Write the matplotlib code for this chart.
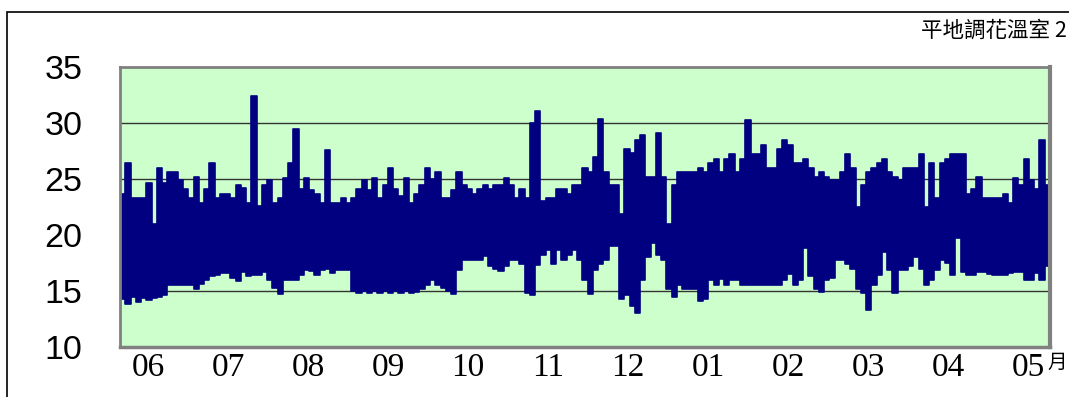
import numpy as np
import matplotlib
matplotlib.use("Agg")
import matplotlib.pyplot as plt
from matplotlib.patches import Rectangle

# greenhouse temperature, read as 2-day max / min envelopes
temp_high = [
    23.7, 26.4, 23.3, 23.3, 23.3, 24.6, 21.0, 26.0, 24.6, 25.6,
    25.6, 24.9, 24.1, 23.3, 25.2, 22.9, 24.1, 26.4, 23.3, 23.7,
    23.7, 23.3, 24.5, 24.2, 22.9, 32.4, 22.6, 24.5, 24.9, 22.9,
    23.3, 25.1, 26.4, 29.5, 24.1, 25.1, 24.0, 23.7, 22.9, 27.6,
    22.9, 22.9, 23.3, 22.9, 23.3, 24.1, 24.9, 24.0, 25.1, 23.3,
    24.5, 26.0, 24.1, 23.5, 25.1, 22.9, 23.7, 24.5, 26.0, 25.0,
    25.6, 23.3, 23.3, 24.0, 25.6, 24.5, 24.1, 23.7, 24.1, 24.5,
    24.1, 24.5, 24.5, 25.1, 24.5, 23.3, 24.1, 23.3, 30.0, 31.1,
    23.0, 23.3, 23.3, 24.1, 24.1, 23.7, 24.5, 24.5, 26.0, 25.6,
    27.0, 30.4, 25.6, 24.5, 24.5, 21.9, 27.7, 27.3, 28.5, 28.9,
    25.2, 25.2, 29.1, 25.2, 21.0, 24.5, 25.6, 25.6, 25.6, 25.6,
    26.0, 25.6, 26.4, 26.8, 25.6, 26.8, 27.2, 25.6, 26.8, 30.3,
    27.2, 27.2, 28.0, 26.0, 26.0, 27.7, 28.5, 28.0, 26.4, 26.4,
    26.8, 26.0, 25.2, 25.6, 25.2, 24.9, 24.9, 25.6, 27.2, 26.0,
    22.5, 24.5, 25.6, 26.0, 26.4, 26.8, 25.6, 25.2, 24.9, 26.0,
    26.0, 26.0, 27.2, 22.5, 26.4, 23.3, 26.4, 26.8, 27.2, 27.2,
    27.2, 23.7, 24.1, 25.2, 23.3, 23.3, 23.3, 23.3, 23.7, 22.9,
    25.1, 24.5, 26.8, 24.9, 24.1, 28.5, 24.5,
]
temp_low = [
    14.3, 13.8, 14.5, 14.0, 14.4, 14.2, 14.4, 14.5, 14.6, 15.5,
    15.5, 15.5, 15.5, 15.5, 15.2, 15.6, 16.0, 16.3, 16.4, 16.6,
    16.6, 16.2, 15.9, 16.7, 16.3, 16.4, 16.4, 16.7, 16.0, 15.3,
    14.7, 16.0, 16.0, 16.0, 16.4, 16.9, 16.8, 16.4, 16.9, 17.0,
    16.6, 16.9, 16.9, 16.9, 15.0, 14.8, 15.0, 14.8, 15.0, 14.8,
    15.0, 14.8, 15.0, 14.8, 15.0, 14.8, 14.9, 15.2, 15.5, 16.0,
    15.5, 15.3, 15.0, 14.7, 16.9, 17.8, 17.8, 17.8, 17.8, 18.1,
    17.2, 17.0, 16.8, 17.2, 17.8, 17.8, 17.4, 14.8, 14.6, 17.3,
    18.2, 18.7, 17.4, 18.7, 17.8, 18.2, 18.7, 17.8, 16.0, 14.7,
    16.9, 17.4, 17.8, 19.0, 19.0, 14.3, 14.6, 13.7, 13.0, 16.0,
    18.0, 19.3, 18.2, 17.8, 15.2, 14.5, 15.5, 15.2, 15.2, 15.2,
    14.1, 14.3, 16.0, 15.5, 16.1, 15.5, 16.0, 16.0, 15.5, 15.5,
    15.5, 15.5, 15.5, 15.5, 15.5, 15.5, 16.0, 16.5, 15.5, 16.0,
    18.8, 16.3, 15.2, 14.9, 16.0, 16.2, 17.8, 17.8, 17.4, 17.0,
    15.2, 14.8, 13.3, 15.5, 16.4, 18.5, 16.9, 14.8, 16.9, 16.9,
    17.2, 18.0, 17.0, 15.5, 16.0, 16.9, 17.8, 17.5, 16.4, 19.7,
    16.7, 16.4, 16.4, 16.7, 16.7, 16.5, 16.4, 16.4, 16.4, 16.6,
    16.7, 16.7, 16.0, 16.0, 16.6, 16.0, 17.2,
]
month_labels = ["06", "07", "08", "09", "10", "11", "12",
                "01", "02", "03", "04", "05"]
title = "平地調花溫室 2"
unit = "月"

step_days = 2
days = np.arange(len(temp_high) + 1) * step_days
hi = np.append(temp_high, temp_high[-1])
lo = np.append(temp_low, temp_low[-1])

fig = plt.figure(figsize=(10.69, 3.97), dpi=100)
ax = fig.add_axes([120 / 1069, 1 - 347 / 397, 930 / 1069, 280 / 397])
ax.set_facecolor("#ccffcc")

for y in [15, 20, 25, 30]:
    ax.axhline(y, color="#333333", lw=1.0, zorder=1)

ax.fill_between(days, lo, hi, step="post", color="#000080",
                edgecolor="#000080", lw=1.2, zorder=2)

ax.set_xlim(0, days[-1])
ax.set_ylim(10, 35)
ax.set_yticks([10, 15, 20, 25, 30, 35])
ax.tick_params(axis="y", length=0, pad=27, labelsize=24.5)
for t in ax.get_yticklabels():
    t.set_fontfamily("Liberation Sans")

first_tick = 10.7
month_len = 30.45
ax.set_xticks(first_tick + month_len * np.arange(len(month_labels)))
ax.set_xticklabels(month_labels, fontfamily="Liberation Serif", fontsize=24)
ax.tick_params(axis="x", length=0, pad=4)

for s in ax.spines.values():
    s.set_color("#808080")
    s.set_linewidth(2)
ax.spines["right"].set_linewidth(3)
ax.spines["bottom"].set_linewidth(2.5)

fig.text(1047 / 1069, 1 - 362 / 397, unit, fontfamily="Noto Sans CJK TC",
         fontsize=14, ha="left", va="center")
fig.text(1067 / 1069, 1 - 31 / 397, title, fontfamily="Noto Sans CJK TC",
         fontsize=15.5, ha="right", va="center")

fig.patches.append(Rectangle((7 / 1069, -0.2), 1.2, 0.2 + 1 - 12 / 397,
                             transform=fig.transFigure, fill=False,
                             edgecolor="black", lw=1.2))

fig.savefig("out.png", dpi=100)
